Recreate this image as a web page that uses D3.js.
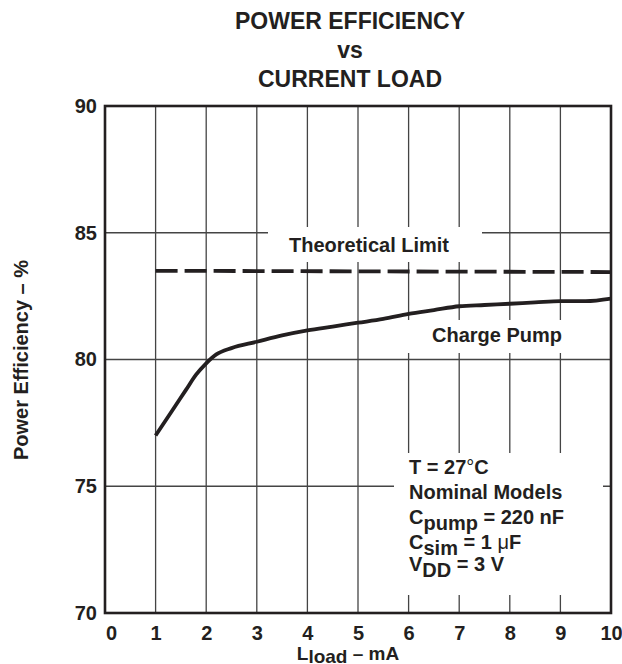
<!DOCTYPE html>
<html>
<head>
<meta charset="utf-8">
<script src="https://cdn.jsdelivr.net/npm/d3@7"></script>
<style>
  body { margin: 0; background: #fff; }
  svg { display: block; font-family: "Liberation Sans", Arial, sans-serif; font-weight: bold; }
</style>
</head>
<body>
<svg id="chart" width="622" height="664"></svg>
<script>
// data
var xTicks = [0, 1, 2, 3, 4, 5, 6, 7, 8, 9, 10];
var yTicks = [70, 75, 80, 85, 90];
var pumpLoad = [1, 1.3, 1.6, 1.8, 2.0, 2.2, 2.5, 3, 3.5, 4, 4.5, 5, 5.5, 6, 6.5, 7, 7.5, 8, 8.5, 9, 9.5, 10];
var pumpEff = [77.0, 77.9, 78.8, 79.4, 79.85, 80.2, 80.45, 80.7, 80.95, 81.15, 81.3, 81.45, 81.6, 81.8, 81.95, 82.1, 82.15, 82.2, 82.25, 82.3, 82.3, 82.4];
var limitLoad = [1, 10];
var limitEff = [83.5, 83.45];
var titleLines = ["POWER EFFICIENCY", "vs", "CURRENT LOAD"];

var ink = "#231f20";
var svg = d3.select("#chart");

var x = d3.scaleLinear().domain([0, 10]).range([105, 611]);
var y = d3.scaleLinear().domain([70, 90]).range([613, 106]);

// title
svg.selectAll("text.title").data(titleLines).enter().append("text")
  .attr("class", "title")
  .attr("x", 350)
  .attr("y", function(d, i){ return 29 + i * 29; })
  .attr("text-anchor", "middle")
  .attr("font-size", 23)
  .attr("fill", ink)
  .text(function(d){ return d; });

// grid
var grid = svg.append("g").attr("stroke", "#444").attr("stroke-width", 1.3);
grid.selectAll("line.v").data(xTicks.slice(1, -1)).enter().append("line")
  .attr("x1", function(d){ return x(d); }).attr("x2", function(d){ return x(d); })
  .attr("y1", y(90)).attr("y2", y(70));
grid.selectAll("line.h").data(yTicks.slice(1, -1)).enter().append("line")
  .attr("x1", x(0)).attr("x2", x(10))
  .attr("y1", function(d){ return y(d); }).attr("y2", function(d){ return y(d); });

// white boxes behind the labels break the grid
function knockout(x0, y0, x1, y1){
  svg.append("rect").attr("x", x0).attr("y", y0)
    .attr("width", x1 - x0).attr("height", y1 - y0).attr("fill", "#fff");
}
knockout(268, 227, 482, 262);
knockout(396, 320, 600, 353);
knockout(394, 453, 603, 595);

// axes (labels only)
var xAxis = svg.append("g").attr("transform", "translate(0," + y(70) + ")")
  .call(d3.axisBottom(x).tickValues(xTicks).tickSize(0).tickPadding(13));
var yAxis = svg.append("g").attr("transform", "translate(" + x(0) + ",0)")
  .call(d3.axisLeft(y).tickValues(yTicks).tickSize(0).tickPadding(8));
[xAxis, yAxis].forEach(function(g){
  g.select(".domain").remove();
  g.selectAll("text").attr("font-size", 20).attr("font-family", "Liberation Sans, Arial, sans-serif")
    .attr("font-weight", "bold").attr("fill", ink);
});
xAxis.selectAll("text").filter(function(d){ return d === 0; }).attr("dx", 6);

// frame
svg.append("rect").attr("x", x(0)).attr("y", y(90))
  .attr("width", x(10) - x(0)).attr("height", y(70) - y(90))
  .attr("fill", "none").attr("stroke", ink).attr("stroke-width", 2.6);

// curves
var line = d3.line().x(function(d){ return x(d[0]); }).y(function(d){ return y(d[1]); });
svg.append("path").datum(d3.zip(limitLoad, limitEff))
  .attr("d", line).attr("fill", "none").attr("stroke", ink)
  .attr("stroke-width", 3.8).attr("stroke-dasharray", "22,7");
svg.append("path").datum(d3.zip(pumpLoad, pumpEff))
  .attr("d", line.curve(d3.curveMonotoneX)).attr("fill", "none").attr("stroke", ink)
  .attr("stroke-width", 3.8).attr("stroke-linejoin", "round");

// curve labels
svg.append("text").attr("x", 369).attr("y", 252).attr("text-anchor", "middle")
  .attr("font-size", 20).attr("fill", ink).text("Theoretical Limit");
svg.append("text").attr("x", 497).attr("y", 342).attr("text-anchor", "middle")
  .attr("font-size", 20).attr("fill", ink).text("Charge Pump");

// conditions block
var cond = svg.append("text").attr("font-size", 20).attr("fill", ink);
var t1 = cond.append("tspan").attr("x", 409).attr("y", 474);
t1.append("tspan").text("T = 27");
t1.append("tspan").attr("font-weight", "normal").text("°");
t1.append("tspan").text("C");
cond.append("tspan").attr("x", 409).attr("y", 499).text("Nominal Models");
var t3 = cond.append("tspan").attr("x", 409).attr("y", 524);
t3.append("tspan").text("C");
t3.append("tspan").attr("dy", 6).text("pump");
t3.append("tspan").attr("dy", -6).text(" = 220 nF");
var t4 = cond.append("tspan").attr("x", 409).attr("y", 549);
t4.append("tspan").text("C");
t4.append("tspan").attr("dy", 6).text("sim");
t4.append("tspan").attr("dy", -6).text(" = 1 ");
t4.append("tspan").attr("font-weight", "normal").text("μ");
t4.append("tspan").text("F");
var t5 = cond.append("tspan").attr("x", 409).attr("y", 571);
t5.append("tspan").text("V");
t5.append("tspan").attr("dy", 6).text("DD");
t5.append("tspan").attr("dy", -6).text(" = 3 V");

// axis titles
var xt = svg.append("text").attr("x", 348).attr("y", 660).attr("text-anchor", "middle")
  .attr("font-size", 19).attr("fill", ink);
xt.append("tspan").text("L");
xt.append("tspan").attr("dy", 3).text("load");
xt.append("tspan").attr("dy", -3).text(" – mA");

svg.append("text").attr("transform", "translate(28,360) rotate(-90)")
  .attr("text-anchor", "middle").attr("font-size", 20).attr("fill", ink)
  .text("Power Efficiency – %");
</script>
</body>
</html>
